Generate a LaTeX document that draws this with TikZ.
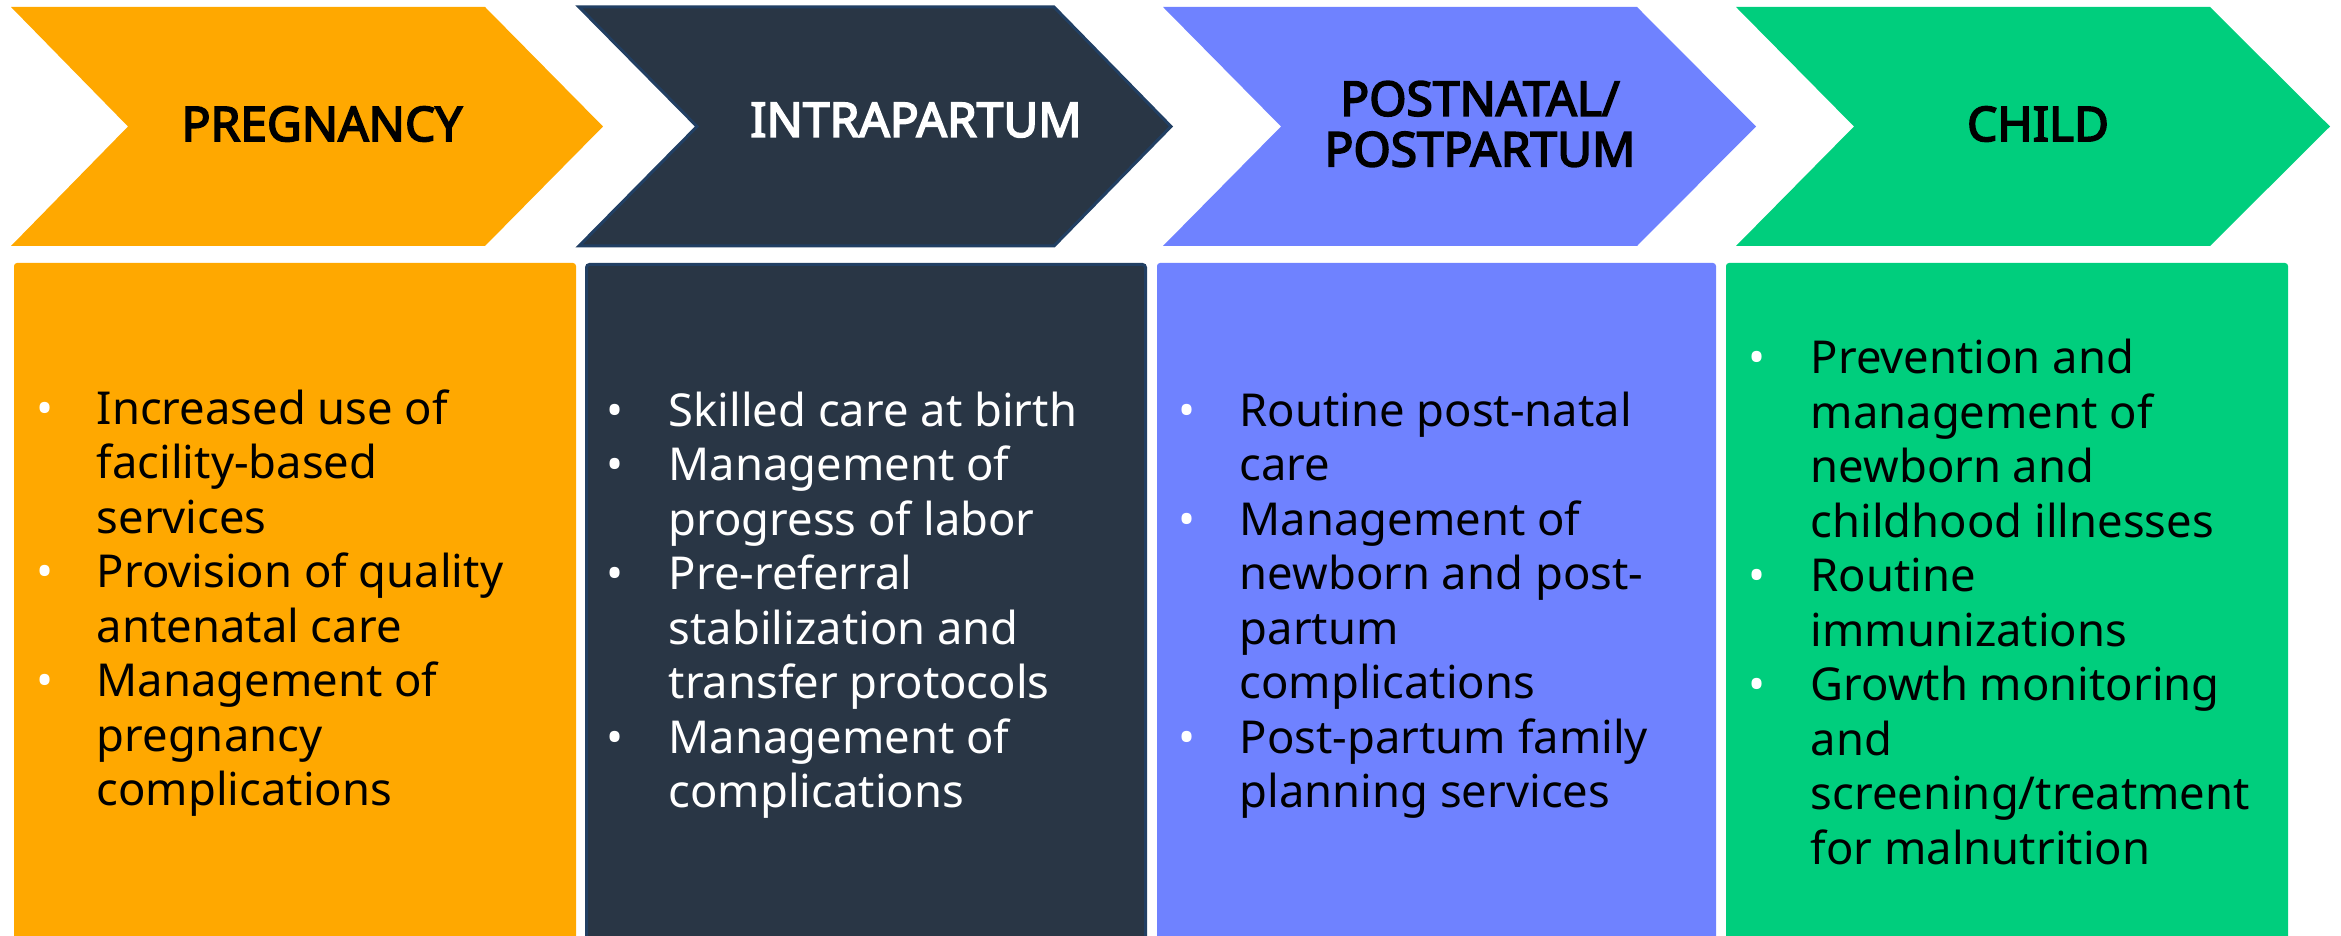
\documentclass[tikz,border=0pt]{standalone}
\usepackage{fontspec}
\setmainfont{Noto Sans}
\newfontfamily\headfont{Noto Sans}[FakeBold=3.5]
\usepackage{tikz}

\definecolor{pregcol}{HTML}{FFA800}
\definecolor{intracol}{HTML}{293645}
\definecolor{intraline}{HTML}{213F63}
\definecolor{postcol}{HTML}{6F82FF}
\definecolor{childcol}{HTML}{00CE7D}

% small white bullet, centred on the left edge of the list
\newcommand{\dotmark}{\makebox[0pt]{\textcolor{white}{\textbullet}}}

\tikzset{
  head/.style={font=\headfont\fontsize{13.6}{14.4}\selectfont, align=center, inner sep=0},
  list/.style={anchor=west, inner sep=0, font=\fontsize{12.9}{15.5}\selectfont},
  panel/.style={rounded corners=0.03cm}
}

\begin{document}
\begin{tikzpicture}[x=0.01cm,y=0.01cm]
        \useasboundingbox (0,0) rectangle (2341,936);
        \clip (0,0) rectangle (2341,936);
        % arrows along the top
        \fill [pregcol] (11,929)--(485,929)--(603,809.5)--(485,690)--(11,690)--(128,809.5)--cycle;
        \draw [intraline,fill=intracol,line width=0.03cm] (579,929)--(1054,929)--(1171,809.5)--(1054,690)--(579,690)--(697,809.5)--cycle;
        \fill [postcol] (1163,929)--(1637,929)--(1756,809.5)--(1637,690)--(1163,690)--(1281,809.5)--cycle;
        \fill [childcol] (1736,929)--(2210,929)--(2330,809.5)--(2210,690)--(1736,690)--(1854,809.5)--cycle;
        % panels below
        \fill [pregcol,panel] (14,-10) rectangle (576,673);
        \draw [intraline,fill=intracol,panel,line width=0.03cm] (586.5,-10) rectangle (1145.5,671.5);
        \fill [postcol,panel] (1157,-10) rectangle (1716,673);
        \fill [childcol,panel] (1726,-10) rectangle (2288,673);
        % stage names
        \node [head] (preg) at (322,812) {PREGNANCY};
        \node [head,text=white] (intra) at (916,816) {INTRAPARTUM};
        \node [head] (post) at (1480,812) {POSTNATAL/\\POSTPARTUM};
        \node [head] (child) at (2038,812) {CHILD};
        % what happens at each stage
        \node [list] (pregtxt) at (44,332) {\begin{tabular}{@{}l@{\hspace{0.52cm}}l@{}}
            \dotmark & Increased use of\\ & facility-based\\ & services\\
            \dotmark & Provision of quality\\ & antenatal care\\
            \dotmark & Management of\\ & pregnancy\\ & complications
        \end{tabular}};
        \node [list,text=white] (intratxt) at (614,330) {\begin{tabular}{@{}l@{\hspace{0.54cm}}l@{}}
            \dotmark & Skilled care at birth\\
            \dotmark & Management of\\ & progress of labor\\
            \dotmark & Pre-referral\\ & stabilization and\\ & transfer protocols\\
            \dotmark & Management of\\ & complications
        \end{tabular}};
        \node [list] (posttxt) at (1186,330) {\begin{tabular}{@{}l@{\hspace{0.53cm}}l@{}}
            \dotmark & Routine post-natal\\ & care\\
            \dotmark & Management of\\ & newborn and post-\\ & partum\\ & complications\\
            \dotmark & Post-partum family\\ & planning services
        \end{tabular}};
        \node [list] (childtxt) at (1756,328) {\begin{tabular}{@{}l@{\hspace{0.54cm}}l@{}}
            \dotmark & Prevention and\\ & management of\\ & newborn and\\ & childhood illnesses\\
            \dotmark & Routine\\ & immunizations\\
            \dotmark & Growth monitoring\\ & and\\ & screening/treatment\\ & for malnutrition
        \end{tabular}};
    \end{tikzpicture}
\end{document}
